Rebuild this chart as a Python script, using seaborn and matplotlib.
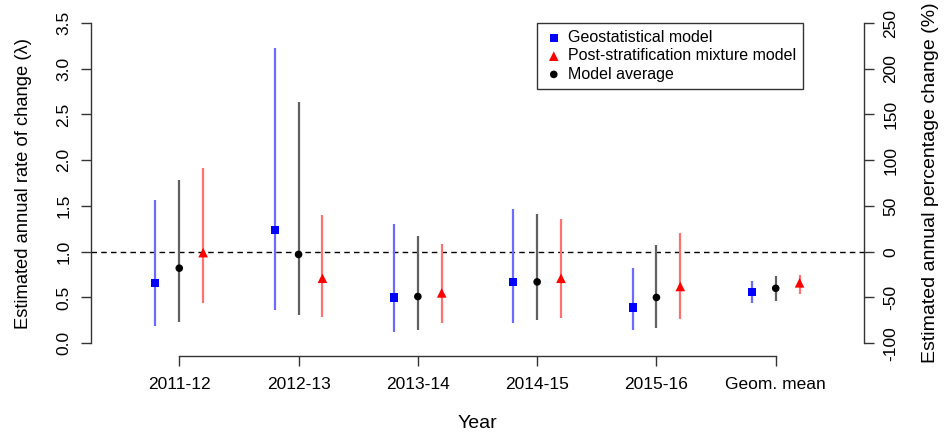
import numpy as np
import pandas as pd
import matplotlib
matplotlib.use("Agg")
import matplotlib.pyplot as plt
import seaborn as sns

# Annual rate of change (lambda) estimates with 95% intervals
periods = ["2011-12", "2012-13", "2013-14", "2014-15", "2015-16", "Geom. mean"]
models = ["Geostatistical model", "Post-stratification mixture model", "Model average"]

geo_est = [0.66, 1.24, 0.50, 0.67, 0.39, 0.56]
geo_lo = [0.19, 0.36, 0.12, 0.22, 0.14, 0.44]
geo_hi = [1.57, 3.23, 1.30, 1.47, 0.82, 0.68]

psm_est = [0.99, 0.71, 0.55, 0.71, 0.62, 0.66]
psm_lo = [0.44, 0.29, 0.22, 0.28, 0.26, 0.54]
psm_hi = [1.92, 1.40, 1.08, 1.36, 1.20, 0.74]

avg_est = [0.82, 0.97, 0.51, 0.67, 0.50, 0.60]
avg_lo = [0.23, 0.31, 0.14, 0.25, 0.17, 0.46]
avg_hi = [1.78, 2.64, 1.17, 1.41, 1.07, 0.73]

y_ticks = [0.0, 0.5, 1.0, 1.5, 2.0, 2.5, 3.0, 3.5]
pct_ticks = [-100, -50, 0, 50, 100, 150, 200, 250]

sns.set_style("white")
plt.rcParams["font.family"] = ["Liberation Sans", "DejaVu Sans"]
plt.rcParams["text.color"] = "black"
plt.rcParams["axes.labelcolor"] = "black"
plt.rcParams["xtick.color"] = "black"
plt.rcParams["ytick.color"] = "black"

offsets = {models[0]: -0.2, models[1]: 0.2, models[2]: 0.0}
colors = {models[0]: "#0000ff", models[1]: "#ff0000", models[2]: "#000000"}
line_colors = {models[0]: "#6b6bff", models[1]: "#ff7070", models[2]: "#606060"}
markers = {models[0]: "s", models[1]: "^", models[2]: "o"}
sizes = {models[0]: 34, models[1]: 48, models[2]: 30}

rows = []
for m, est, lo, hi in [(models[0], geo_est, geo_lo, geo_hi),
                       (models[1], psm_est, psm_lo, psm_hi),
                       (models[2], avg_est, avg_lo, avg_hi)]:
    for i, p in enumerate(periods):
        rows.append({"period": p, "model": m, "pos": i + 1 + offsets[m],
                     "est": est[i], "lo": lo[i], "hi": hi[i]})
df = pd.DataFrame(rows)

fig = plt.figure(figsize=(9.45, 4.38), dpi=100)
ax = fig.add_axes([91 / 945, 1 - 356 / 438, (864 - 91) / 945, (356 - 10.2) / 438])

ax.axhline(1.0, color="black", lw=1.0, ls=(0, (4, 3)), zorder=1)

for m in models:
    sub = df[df["model"] == m]
    ax.vlines(sub["pos"], sub["lo"], sub["hi"], color=line_colors[m], lw=1.6, zorder=2)

for m in models:
    sub = df[df["model"] == m]
    sns.scatterplot(data=sub, x="pos", y="est", marker=markers[m], color=colors[m],
                    s=sizes[m], edgecolor="none", linewidth=0, ax=ax, zorder=3,
                    label=m)

ax.set_xlim(0.26, 6.74)
ax.set_ylim(-0.14, 3.64)

for side in ["top", "right"]:
    ax.spines[side].set_visible(False)
ax.spines["left"].set_bounds(0, 3.5)
ax.spines["bottom"].set_bounds(1, 6)
for side in ["left", "bottom"]:
    ax.spines[side].set_color("#333333")
    ax.spines[side].set_linewidth(1.0)

ax.set_xticks(range(1, len(periods) + 1))
ax.set_xticklabels(periods, fontsize=12.5)
ax.set_yticks(y_ticks)
ax.set_yticklabels([f"{v:.1f}" for v in y_ticks], fontsize=12.5, rotation=90, va="center")
ax.tick_params(axis="both", direction="out", length=7, width=1.0, color="#333333",
               left=True, bottom=True, pad=7)
ax.tick_params(axis="x", pad=8)
ax.set_xlabel("Year", fontsize=14, labelpad=17)
ax.set_ylabel("Estimated annual rate of change (\u03bb)", fontsize=13.2, labelpad=18)

# Right-hand axis: percentage change, (lambda - 1) * 100
ax2 = ax.twinx()
lo_l, hi_l = ax.get_ylim()
ax2.set_ylim((lo_l - 1) * 100, (hi_l - 1) * 100)
for side in ["top", "left", "bottom"]:
    ax2.spines[side].set_visible(False)
ax2.spines["right"].set_bounds(-100, 250)
ax2.spines["right"].set_color("#333333")
ax2.spines["right"].set_linewidth(1.0)
ax2.set_yticks(pct_ticks)
ax2.set_yticklabels([str(v) for v in pct_ticks], fontsize=12.5, rotation=90, va="center")
ax2.tick_params(axis="y", direction="out", length=7, width=1.0, color="#333333",
                right=True, pad=7)
ax2.set_ylabel("Estimated annual percentage change (%)", fontsize=14, labelpad=17)

handles, labels = ax.get_legend_handles_labels()
order = [labels.index(m) for m in models]
leg = ax.legend([handles[i] for i in order], [labels[i] for i in order],
                loc="upper left", bbox_to_anchor=((537 - 91) / 773, 1 - (23 - 10.2) / 345.8),
                fontsize=11.5, frameon=True, fancybox=False, edgecolor="black",
                borderpad=0.45, handletextpad=0.3, handlelength=1.2, labelspacing=0.2,
                borderaxespad=0)
leg.get_frame().set_linewidth(1.0)

fig.savefig("out.png", dpi=100)
